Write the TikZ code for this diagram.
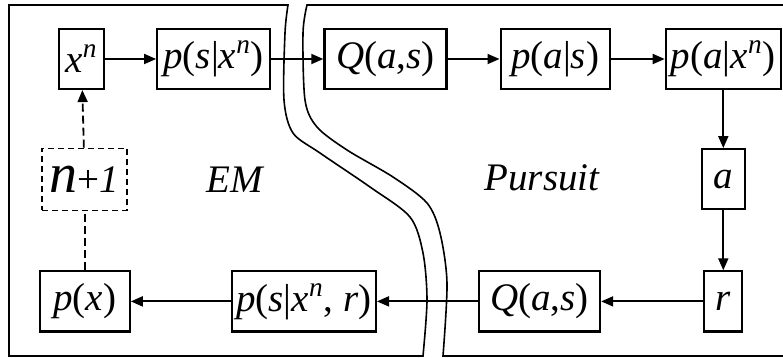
\documentclass[tikz,border=0pt]{standalone}
\usepackage{fontspec}
\setmainfont{Liberation Serif}
\newfontfamily\timesfont{Liberation Serif}
\usetikzlibrary{arrows.meta, positioning}
\newcommand{\up}[1]{\textup{#1}}
\tikzset{
  var/.style={rectangle, draw=black, line width=1.1pt, inner sep=0pt,
              minimum height=30pt, font=\timesfont\fontsize{19.5}{22}\selectfont\itshape},
  dashvar/.style={var, line width=0.8pt, dash pattern=on 3pt off 2pt},
  arrow/.style={-{Triangle[length=6pt, width=5pt]}, line width=0.9pt},
  dasharrow/.style={arrow, dash pattern=on 4pt off 2pt},
  dashline/.style={line width=0.9pt, dash pattern=on 4pt off 2pt},
  region/.style={line width=0.8pt},
  title/.style={font=\timesfont\fontsize{19.5}{22}\selectfont\itshape},
}
\begin{document}
\begin{tikzpicture}[x=0.5pt, y=-0.5pt]
  \useasboundingbox (0,0) rectangle (783,358);

  %% ---- REGIONS ----
  \draw[region] plot[smooth] coordinates {(288,5) (285,33) (284,100) (293,133) (320,153) (370,187) (410,217) (423,253) (427,300) (423,356)}
    -- (9,356) -- (9,5) -- cycle;
  \draw[region] (783,5) -- (307,5)
    -- plot[smooth] coordinates {(307,5) (303,33) (305,100) (317,127) (347,150) (393,177) (427,203) (440,233) (447,283) (443,356)}
    -- (783,356);

  %% ---- TOP ROW ----
  \node[var, minimum width=22.5pt] (xn) at (81.5,59) {x\textsuperscript{n}};
  \node[var, minimum width=56.5pt, right=25.5pt of xn] (psxn) {p\up{(}s\up{|}x\textsuperscript{n}\up{)}};
  \node[var, minimum width=61pt, right=26pt of psxn] (qtop) {Q\up{(}a\up{,}s\up{)}};
  \node[var, minimum width=54.5pt, right=26pt of qtop] (pas) {p\up{(}a\up{|}s\up{)}};
  \node[var, minimum width=57.5pt, right=27pt of pas] (paxn) {p\up{(}a\up{|}x\textsuperscript{n}\up{)}};

  \draw[arrow] (xn) -- (psxn);
  \draw[arrow] (psxn) -- (qtop);
  \draw[arrow] (qtop) -- (pas);
  \draw[arrow] (pas) -- (paxn);

  %% ---- RIGHT COLUMN ----
  \node[var, minimum width=21.5pt, below=29pt of paxn] (act) {a};
  \node[var, minimum width=19pt, below=30pt of act] (rew) {r};

  \draw[arrow] (paxn) -- (act);
  \draw[arrow] (act) -- (rew);

  %% ---- BOTTOM ROW ----
  \node[var, minimum width=60.5pt, left=51pt of rew] (qbot) {Q\up{(}a\up{,}s\up{)}};
  \node[var, minimum width=72pt, left=50.5pt of qbot] (psxnr) {p\up{(}s\up{|}x\textsuperscript{n}\up{, }r\up{)}};
  \node[var, minimum width=45pt, left=50pt of psxnr] (px) {p\up{(}x\up{)}};

  \draw[arrow] (rew) -- (qbot);
  \draw[arrow] (qbot) -- (psxnr);
  \draw[arrow] (psxnr) -- (px);

  %% ---- LOOP BACK ----
  \node[dashvar, minimum width=42.5pt, minimum height=31pt, above=29.5pt of px] (next)
    {{\fontsize{28}{28}\selectfont n}\up{+}1};

  \draw[dashline] (px) -- (next);
  \draw[dasharrow] (next) -- (xn);

  %% ---- REGION LABELS ----
  \node[title] (em) at (235,180) {EM};
  \node[title] (pursuit) at (542,178) {Pursuit};

\end{tikzpicture}
\end{document}
